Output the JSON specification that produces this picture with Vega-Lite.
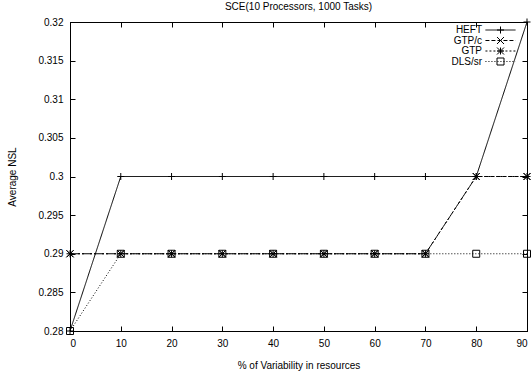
{
  "$schema": "https://vega.github.io/schema/vega-lite/v6.json",
  "width": 457,
  "height": 309,
  "autosize": "none",
  "padding": {"left": 70, "top": 22, "right": 4, "bottom": 51},
  "config": {
    "font": "Liberation Sans",
    "view": {"stroke": "black", "strokeWidth": 1},
    "axis": {
      "grid": false,
      "domainColor": "black",
      "tickColor": "black",
      "labelColor": "black",
      "titleColor": "black",
      "labelFont": "Liberation Sans",
      "titleFont": "Liberation Sans",
      "labelFontSize": 10,
      "titleFontSize": 10,
      "titleFontWeight": "normal",
      "tickSize": -5,
      "tickWidth": 1,
      "domainWidth": 1,
      "labelOverlap": false
    },
    "legend": {
      "labelFont": "Liberation Sans",
      "labelFontSize": 10,
      "labelColor": "black",
      "padding": 0
    }
  },
  "title": {
    "text": "SCE(10 Processors, 1000 Tasks)",
    "fontSize": 10,
    "fontWeight": "normal",
    "font": "Liberation Sans",
    "color": "black",
    "offset": 5
  },
  "data": {
    "values": [
      {"series": "HEFT", "x": 0, "y": 0.28},
      {"series": "HEFT", "x": 10, "y": 0.30},
      {"series": "HEFT", "x": 20, "y": 0.30},
      {"series": "HEFT", "x": 30, "y": 0.30},
      {"series": "HEFT", "x": 40, "y": 0.30},
      {"series": "HEFT", "x": 50, "y": 0.30},
      {"series": "HEFT", "x": 60, "y": 0.30},
      {"series": "HEFT", "x": 70, "y": 0.30},
      {"series": "HEFT", "x": 80, "y": 0.30},
      {"series": "HEFT", "x": 90, "y": 0.32},
      {"series": "GTP/c", "x": 0, "y": 0.29},
      {"series": "GTP/c", "x": 10, "y": 0.29},
      {"series": "GTP/c", "x": 20, "y": 0.29},
      {"series": "GTP/c", "x": 30, "y": 0.29},
      {"series": "GTP/c", "x": 40, "y": 0.29},
      {"series": "GTP/c", "x": 50, "y": 0.29},
      {"series": "GTP/c", "x": 60, "y": 0.29},
      {"series": "GTP/c", "x": 70, "y": 0.29},
      {"series": "GTP/c", "x": 80, "y": 0.30},
      {"series": "GTP/c", "x": 90, "y": 0.30},
      {"series": "GTP", "x": 0, "y": 0.29},
      {"series": "GTP", "x": 10, "y": 0.29},
      {"series": "GTP", "x": 20, "y": 0.29},
      {"series": "GTP", "x": 30, "y": 0.29},
      {"series": "GTP", "x": 40, "y": 0.29},
      {"series": "GTP", "x": 50, "y": 0.29},
      {"series": "GTP", "x": 60, "y": 0.29},
      {"series": "GTP", "x": 70, "y": 0.29},
      {"series": "GTP", "x": 80, "y": 0.30},
      {"series": "GTP", "x": 90, "y": 0.30},
      {"series": "DLS/sr", "x": 0, "y": 0.28},
      {"series": "DLS/sr", "x": 10, "y": 0.29},
      {"series": "DLS/sr", "x": 20, "y": 0.29},
      {"series": "DLS/sr", "x": 30, "y": 0.29},
      {"series": "DLS/sr", "x": 40, "y": 0.29},
      {"series": "DLS/sr", "x": 50, "y": 0.29},
      {"series": "DLS/sr", "x": 60, "y": 0.29},
      {"series": "DLS/sr", "x": 70, "y": 0.29},
      {"series": "DLS/sr", "x": 80, "y": 0.29},
      {"series": "DLS/sr", "x": 90, "y": 0.29}
    ]
  },
  "layer": [
    {
      "encoding": {
        "x": {
          "field": "x", "type": "quantitative",
          "scale": {"domain": [0, 90], "nice": false},
          "axis": {"values": [0, 10, 20, 30, 40, 50, 60, 70, 80, 90], "title": "% of Variability in resources", "labelPadding": 12, "titlePadding": 12, "labelOverlap": false}
        },
        "y": {
          "field": "y", "type": "quantitative",
          "scale": {"domain": [0.28, 0.32], "nice": false, "zero": false},
          "axis": {"values": [0.28, 0.285, 0.29, 0.295, 0.3, 0.305, 0.31, 0.315, 0.32], "format": "~g", "title": "Average NSL", "labelPadding": 12, "titlePadding": 20, "labelOverlap": false}
        }
      },
      "layer": [
        {
          "mark": {"type": "line", "color": "black", "strokeWidth": 1},
          "encoding": {
            "strokeDash": {
              "field": "series", "type": "nominal",
              "scale": {"domain": ["HEFT", "GTP/c", "GTP", "DLS/sr"], "range": [[1, 0], [4, 2], [2, 2], [1, 2]]},
              "legend": {
                "orient": "none", "legendX": 425.5, "legendY": 3, "title": null, "rowPadding": 0.5,
                "symbolType": "M-4.3,0L4.3,0", "symbolSize": 49, "symbolStrokeColor": "black", "symbolStrokeWidth": 1, "symbolFillColor": "transparent",
                "labelAlign": "right", "labelOffset": -23.5
              }
            }
          }
        },
        {
          "mark": {"type": "point", "filled": false, "color": "black", "strokeWidth": 1, "size": 49, "opacity": 1},
          "encoding": {
            "shape": {
              "field": "series", "type": "nominal",
              "sort": ["HEFT", "GTP/c", "GTP", "DLS/sr"],
              "scale": {"range": ["M-1,0L1,0M0,-1L0,1", "M-1,-1L1,1M-1,1L1,-1", "M-1,0L1,0M0,-1L0,1M-1,-1L1,1M-1,1L1,-1", "square"]},
              "legend": {
                "orient": "none", "legendX": 425.5, "legendY": 3, "title": null, "rowPadding": 0.5, "clipHeight": 10,
                "symbolSize": 49, "symbolStrokeColor": "black", "symbolFillColor": "transparent", "symbolStrokeWidth": 1,
                "labelExpr": "' '"
              }
            }
          }
        }
      ]
    },
    {
      "mark": {"type": "line", "opacity": 0},
      "encoding": {
        "x": {"field": "x", "type": "quantitative", "axis": {"orient": "top", "labels": false, "title": null, "values": [0, 10, 20, 30, 40, 50, 60, 70, 80, 90]}},
        "y": {"field": "y", "type": "quantitative", "axis": {"orient": "right", "labels": false, "title": null, "values": [0.28, 0.285, 0.29, 0.295, 0.3, 0.305, 0.31, 0.315, 0.32]}},
        "detail": {"field": "series"}
      }
    }
  ],
  "resolve": {"axis": {"x": "independent", "y": "independent"}}
}
